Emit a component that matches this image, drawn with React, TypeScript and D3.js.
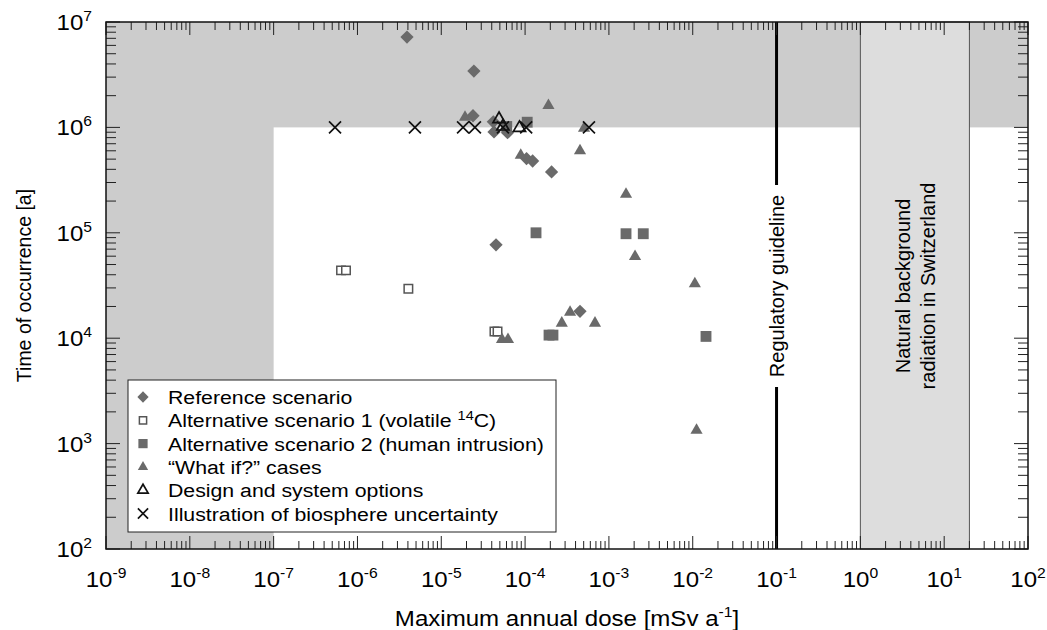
import React from "react";
import * as d3 from "d3";

// dose [mSv/a] and time [a] for each group of results
const referenceDose = [3.9e-6, 2.45e-5, 2.39e-5, 4.18e-5, 4.26e-5, 6.17e-5, 1.04e-4, 1.23e-4, 2.07e-4, 4.5e-5, 4.52e-4];
const referenceTime = [7.2e6, 3.42e6, 1.29e6, 1.13e6, 9.06e5, 8.9e5, 5.06e5, 4.8e5, 3.78e5, 7.7e4, 1.8e4];

const alt1Dose = [6.37e-7, 7.3e-7, 4.05e-6, 4.31e-5, 4.69e-5];
const alt1Time = [4.4e4, 4.4e4, 2.94e4, 1.16e4, 1.16e4];

const alt2Dose = [1.06e-4, 6.04e-5, 1.35e-4, 1.6e-3, 2.57e-3, 1.93e-4, 2.15e-4, 1.44e-2];
const alt2Time = [1.12e6, 1.02e6, 1.0e5, 9.8e4, 9.8e4, 1.07e4, 1.07e4, 1.04e4];

const whatIfDose = [1.9e-4, 1.92e-5, 5.05e-4, 4.52e-4, 8.88e-5, 1.6e-3, 2.05e-3, 1.06e-2, 3.44e-4, 2.74e-4, 6.82e-4, 5.3e-5, 6.25e-5, 1.11e-2];
const whatIfTime = [1.61e6, 1.25e6, 9.8e5, 6.0e5, 5.44e5, 2.32e5, 5.97e4, 3.28e4, 1.76e4, 1.39e4, 1.39e4, 9.7e3, 9.7e3, 1.34e3];

const designDose = [4.89e-5, 5.44e-5, 8.57e-5];
const designTime = [1.2e6, 1.02e6, 9.9e5];

const biosphereDose = [5.4e-7, 4.85e-6, 1.82e-5, 2.52e-5, 5.44e-5, 1.03e-4, 5.78e-4];
const biosphereTime = [1e6, 1e6, 1e6, 1e6, 1e6, 1e6, 1e6];

const regulatoryGuideline = 0.1;
const backgroundBand = [1, 20];
const shadeDose = 1e-7;
const shadeTime = 1e6;

const xExponents = [-9, -8, -7, -6, -5, -4, -3, -2, -1, 0, 1, 2];
const yExponents = [2, 3, 4, 5, 6, 7];

const legendLabels = [
  "Reference scenario",
  "Alternative scenario 1 (volatile ",
  "Alternative scenario 2 (human intrusion)",
  "\u201cWhat if?\u201d cases",
  "Design and system options",
  "Illustration of biosphere uncertainty",
];

const W = 1047, H = 630;
const left = 106, right = 1028, top = 22, bottom = 549;
const FONT = "'Liberation Sans', Arial, sans-serif";
const MARK = "#6a6a6a";
const SX = 1.12; // horizontal text in the original is a little wide

const zip = (a: number[], b: number[]) => a.map((v, i) => [v, b[i]] as [number, number]);

export default function App() {
  const x = d3.scaleLog().domain([1e-9, 1e2]).range([left, right]);
  const y = d3.scaleLog().domain([1e2, 1e7]).range([bottom, top]);

  const sq = d3.symbol().type(d3.symbolSquare);
  const tri = d3.symbol().type(d3.symbolTriangle);

  const marker = (kind: string, cx: number, cy: number, scale = 1, key?: any) => {
    const t = `translate(${cx},${cy})`;
    if (kind === "diamond")
      return <path key={key} d={sq.size(88 * scale * scale)()!} transform={`${t} rotate(45)`} fill={MARK} />;
    if (kind === "open")
      return <path key={key} d={sq.size(72 * scale * scale)()!} transform={t} fill="#fff" stroke="#555" strokeWidth={1.5} />;
    if (kind === "square")
      return <path key={key} d={sq.size(118 * scale * scale)()!} transform={t} fill={MARK} />;
    if (kind === "tri")
      return <path key={key} d={tri.size(64 * scale * scale)()!} transform={t} fill={MARK} />;
    if (kind === "opentri")
      return <path key={key} d={tri.size(64 * scale * scale)()!} transform={t} fill="none" stroke="#111" strokeWidth={1.7} />;
    const r = 6 * scale;
    return (
      <path key={key} d={`M${-r},${-r}L${r},${r}M${-r},${r}L${r},${-r}`} transform={t} stroke="#111" strokeWidth={1.7} fill="none" />
    );
  };

  const groups: [string, [number, number][]][] = [
    ["diamond", zip(referenceDose, referenceTime)],
    ["open", zip(alt1Dose, alt1Time)],
    ["square", zip(alt2Dose, alt2Time)],
    ["tri", zip(whatIfDose, whatIfTime)],
    ["opentri", zip(designDose, designTime)],
    ["cross", zip(biosphereDose, biosphereTime)],
  ];

  // minor + major ticks
  const xTicks: { v: number; major: boolean }[] = [];
  for (let e = -9; e <= 2; e++)
    for (let k = 1; k <= 9; k++) {
      const v = k * Math.pow(10, e);
      if (v <= 1e2 * 1.0001) xTicks.push({ v, major: k === 1 });
    }
  const yTicks: { v: number; major: boolean }[] = [];
  for (let e = 2; e <= 7; e++)
    for (let k = 1; k <= 9; k++) {
      const v = k * Math.pow(10, e);
      if (v <= 1e7 * 1.0001) yTicks.push({ v, major: k === 1 });
    }

  const regX = x(regulatoryGuideline);
  const bx0 = x(backgroundBand[0]), bx1 = x(backgroundBand[1]);
  const bxm = (bx0 + bx1) / 2;
  const midY = 286;

  return (
    <svg width={W} height={H} style={{ position: "absolute", left: 0, top: 0, background: "#fff" }} fontFamily={FONT}>
      {/* shaded regions */}
      <rect x={left} y={top} width={right - left} height={y(shadeTime) - top} fill="#cccccc" />
      <rect x={left} y={top} width={x(shadeDose) - left} height={bottom - top} fill="#cccccc" />
      <rect x={bx0} y={top} width={bx1 - bx0} height={bottom - top} fill="#dddddd" stroke="#555" strokeWidth={1} />

      {/* regulatory guideline */}
      <line x1={regX} x2={regX} y1={top} y2={185} stroke="#000" strokeWidth={3} />
      <line x1={regX} x2={regX} y1={387} y2={bottom} stroke="#000" strokeWidth={3} />
      <text transform={`translate(${regX + 7},${midY}) rotate(-90)`} textAnchor="middle" fontSize={20}>
        Regulatory guideline
      </text>
      <text transform={`translate(${bxm},${midY}) rotate(-90)`} textAnchor="middle" fontSize={20}>
        <tspan x={0} y={-5}>Natural background</tspan>
        <tspan x={0} y={20}>radiation in Switzerland</tspan>
      </text>

      {/* ticks */}
      {xTicks.map((t, i) => {
        const len = t.major ? 13 : 8;
        return (
          <g key={"xt" + i} stroke="#222" strokeWidth={1}>
            <line x1={x(t.v)} x2={x(t.v)} y1={bottom} y2={bottom - len} />
            <line x1={x(t.v)} x2={x(t.v)} y1={top} y2={top + len} />
          </g>
        );
      })}
      {yTicks.map((t, i) => {
        const len = t.major ? 14 : 10;
        return (
          <g key={"yt" + i} stroke="#222" strokeWidth={1}>
            <line x1={left} x2={left + len} y1={y(t.v)} y2={y(t.v)} />
            <line x1={right} x2={right - len} y1={y(t.v)} y2={y(t.v)} />
          </g>
        );
      })}

      {/* data */}
      {groups.map(([kind, pts]) => (
        <g key={kind}>{pts.map((p, i) => marker(kind, x(p[0]), y(p[1]), 1, i))}</g>
      ))}

      {/* frame */}
      <rect x={left} y={top} width={right - left} height={bottom - top} fill="none" stroke="#111" strokeWidth={1.5} />

      {/* tick labels */}
      {xExponents.map((e) => (
        <text key={"xl" + e} transform={`translate(${x(Math.pow(10, e))},587) scale(${SX},1)`} textAnchor="middle" fontSize={21.5}>
          10<tspan dy={-9} fontSize={14}>{e}</tspan>
        </text>
      ))}
      {yExponents.map((e) => (
        <text key={"yl" + e} transform={`translate(92,${y(Math.pow(10, e)) + 8}) scale(${SX},1)`} textAnchor="end" fontSize={21.5}>
          10<tspan dy={-9} fontSize={14}>{e}</tspan>
        </text>
      ))}

      {/* axis titles */}
      <text transform={`translate(${(left + right) / 2},626) scale(${SX},1)`} textAnchor="middle" fontSize={21.5}>
        Maximum annual dose [mSv a<tspan dy={-9} fontSize={14}>-1</tspan><tspan dy={9}>]</tspan>
      </text>
      <text transform={`translate(31,${(top + bottom) / 2}) rotate(-90)`} textAnchor="middle" fontSize={19.5}>
        Time of occurrence [a]
      </text>

      {/* legend */}
      <rect x={128} y={380} width={428} height={152} fill="#fff" stroke="#222" strokeWidth={1} />
      {legendLabels.map((lab, i) => {
        const cy = 397 + i * 23.3;
        const kinds = ["diamond", "open", "square", "tri", "opentri", "cross"];
        return (
          <g key={"lg" + i}>
            {marker(kinds[i], 143, cy, 0.85)}
            <text transform={`translate(168,${cy + 7}) scale(1.12,1)`} fontSize={19}>
              {lab}
              {i === 1 && (
                <>
                  <tspan dy={-7} fontSize={13}>14</tspan>
                  <tspan dy={7}>C)</tspan>
                </>
              )}
            </text>
          </g>
        );
      })}
    </svg>
  );
}
